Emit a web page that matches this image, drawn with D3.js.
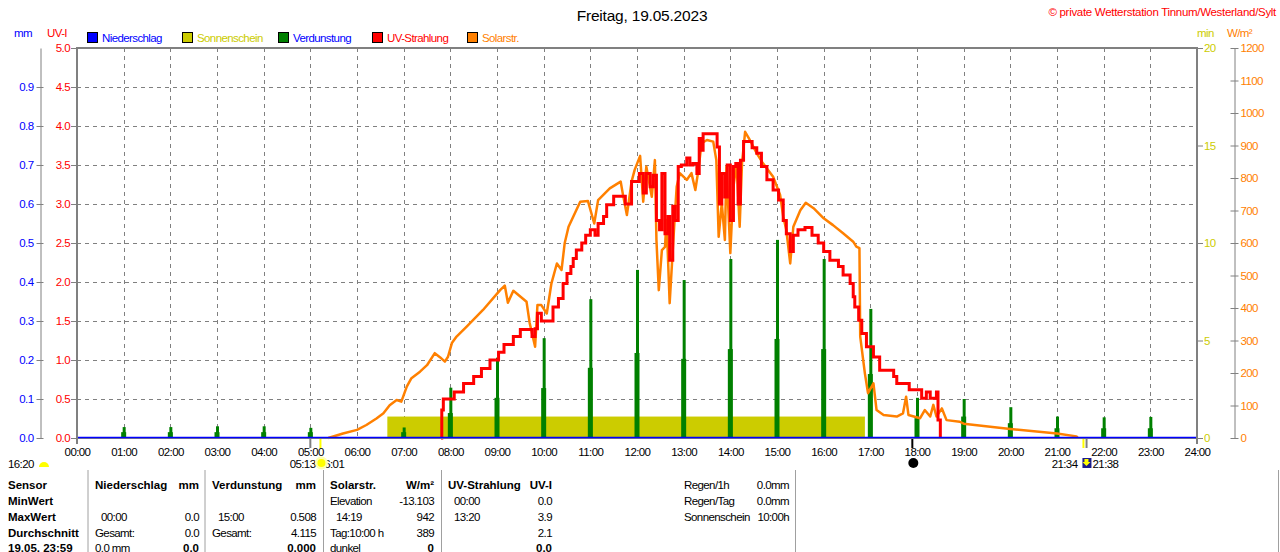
<!DOCTYPE html>
<html><head><meta charset="utf-8">
<script src="https://cdn.jsdelivr.net/npm/d3@7"></script>
<style>
body{margin:0;background:#fff;}
svg{display:block;}
text{font-family:"Liberation Sans",Arial,sans-serif;font-size:11.5px;letter-spacing:-0.6px;}
text.b{font-family:"Liberation Sans",Arial,sans-serif;font-weight:bold;font-size:11.5px;letter-spacing:0px;}
</style></head><body>
<svg id="c" width="1280" height="552"></svg>
<script>
// ---------------- DATA ----------------
const hourLabels = d3.range(0,25).map(h => String(h).padStart(2,'0') + ':00');
const mmTicks = [0,0.1,0.2,0.3,0.4,0.5,0.6,0.7,0.8,0.9];
const uvTicks = [0,0.5,1,1.5,2,2.5,3,3.5,4,4.5,5];
const minTicks = [0,5,10,15,20];
const wTicks = [0,100,200,300,400,500,600,700,800,900,1000,1100,1200];

const legendNames = ["Niederschlag","Sonnenschein","Verdunstung","UV-Strahlung","Solarstr."];
const legendBox = ["#0000ff","#cccc00","#008000","#ff0000","#ff8000"];
const legendText = ["#0000ff","#cccc00","#0000ff","#ff0000","#ff8000"];

// UV-Strahlung (UV-I), step series
const uvTimes = ["07:48","07:49","07:51","08:05","08:17","08:30","08:40","08:51","09:02","09:09","09:21","09:30","09:45","09:49","09:52","09:57",
"10:12","10:19","10:25","10:30","10:35","10:38","10:42","10:49","10:54","11:00","11:06","11:10","11:17","11:21","11:30","11:45","11:53",
"12:03","12:08","12:12","12:17","12:21","12:25","12:29","12:32","12:36","12:40","12:42","12:46","12:49","12:53","12:57",
"13:04","13:08","13:12","13:17","13:20","13:23","13:25","13:43","13:46","13:49","13:53","13:56",
"14:00","14:04","14:07","14:10","14:13","14:17","14:28","14:34","14:40","14:47","14:55",
"15:02","15:08","15:12","15:17","15:21","15:27","15:36","15:45","15:53",
"16:00","16:08","16:19","16:25","16:34","16:38","16:40","16:45","16:49","16:55",
"17:04","17:12","17:30","17:34","17:50","18:06","18:12","18:17","18:25","18:27","18:30"];
const uvValues = [0,0.36,0.50,0.59,0.70,0.79,0.89,1.00,1.10,1.20,1.30,1.39,1.30,1.40,1.60,1.50,
1.68,1.79,1.98,2.11,2.20,2.30,2.41,2.50,2.60,2.67,2.60,2.75,2.84,2.99,3.10,3.00,3.29,
3.39,3.14,3.39,3.22,3.37,2.79,2.67,3.39,2.62,2.84,2.28,2.97,2.79,3.48,3.50,
3.59,3.50,3.52,3.39,3.84,3.69,3.90,3.73,3.00,3.39,3.09,3.50,
2.79,3.48,3.52,3.00,3.56,3.80,3.72,3.65,3.48,3.31,3.18,
3.05,2.79,2.62,2.39,2.60,2.67,2.70,2.60,2.50,
2.39,2.28,2.20,2.09,1.98,1.81,1.68,1.51,1.34,1.17,
1.04,0.87,0.79,0.70,0.62,0.51,0.59,0.51,0.59,0.23,0];

// Solarstrahlung (W/m²)
const solarTimes = ["05:23","05:42","06:00","06:12","06:25","06:34","06:42","06:51","06:57","07:04","07:10","07:21","07:30","07:40","07:47","07:53","07:57","08:02","08:08","08:21","08:42",
"09:04","09:10","09:14","09:21","09:38","09:42","09:49","09:52","09:57","10:04","10:10","10:17","10:23","10:27","10:32","10:38","10:47","10:57",
"11:05","11:10","11:25","11:39","11:42","11:47","11:53","11:57","12:04","12:08","12:12","12:19","12:23","12:25","12:28","12:32","12:36","12:38",
"12:42","12:47","12:51","12:55","13:04","13:10","13:15","13:19","13:23","13:30","13:38","13:42","13:45","13:49","13:53","13:55",
"14:00","14:04","14:08","14:12","14:15","14:19","14:25","14:34","14:42","14:55","15:04","15:08","15:12","15:17","15:21","15:30","15:37","15:47",
"16:00","16:12","16:25","16:38","16:42","16:46","16:47","16:53","16:57","17:04","17:08","17:17","17:34","17:42","17:46","17:49",
"18:04","18:10","18:17","18:21","18:25","18:32","18:38","18:55","19:00","20:00","21:00","21:25","21:27"];
const solarValues = [0,14,25,40,60,76,101,117,112,158,184,204,224,261,248,235,250,292,312,343,394,
455,469,416,453,419,354,281,409,409,383,476,537,517,599,650,681,727,729,
660,732,768,789,748,686,789,825,868,727,835,742,855,609,455,578,588,671,
415,619,773,815,794,815,763,825,907,917,912,855,619,723,609,835,
569,773,845,650,845,942,917,876,845,804,748,681,640,537,650,701,724,707,
676,655,630,604,589,584,312,199,138,168,86,71,66,76,127,71,
61,86,66,102,66,91,55,50,44,28,14,5,0];

// Verdunstung (mm) per hour: peak and shoulder
const evapHours = d3.range(0,24);
const evapPeak = [0,0.028,0.028,0.030,0.030,0.026,0,0.027,0.129,0.206,0.256,0.356,0.431,0.405,0.459,0.508,0.459,0.331,0.103,0.100,0.079,0.055,0.053,0.054];
const evapShoulder = [0,0.015,0.015,0.015,0.015,0.015,0,0.015,0.064,0.103,0.128,0.180,0.218,0.203,0.228,0.254,0.228,0.164,0.051,0.055,0.038,0.025,0.025,0.025];

// Sonnenschein (min)
const sunshineFrom = ["06:39"];
const sunshineTo = ["16:53"];
const sunshineMin = [1.1];

// Astronomical markers below the axis
const markerTimes = ["05:00","05:13","17:54","21:34","21:38"];
const markerColors = ["#808080","#ffff00","#000000","#ffff00","#808080"];

// Table
const sensorLabels = ["Sensor","MinWert","MaxWert","Durchschnitt","19.05. 23:59"];
const colNieder = [["Niederschlag","mm"],["",""],["00:00","0.0"],["Gesamt:","0.0"],["0.0 mm","0.0"]];
const colVerd = [["Verdunstung","mm"],["",""],["15:00","0.508"],["Gesamt:","4.115"],["","0.000"]];
const colSolar = [["Solarstr.","W/m²"],["Elevation","-13.103"],["14:19","942"],["Tag:10:00 h","389"],["dunkel","0"]];
const colUV = [["UV-Strahlung","UV-I"],["00:00","0.0"],["13:20","3.9"],["","2.1"],["","0.0"]];
const colRegen = [["Regen/1h","0.0mm"],["Regen/Tag","0.0mm"],["Sonnenschein","10:00h"]];

// ---------------- CHART ----------------
const pt = s => { const [h,m] = s.split(':').map(Number); return h*60+m; };
const svg = d3.select('#c');
const L=77, R=1197, T=48, B=438;
const x = d3.scaleLinear().domain([0,1440]).range([L,R]);
const yUV = d3.scaleLinear().domain([0,5]).range([B,T]);
const yMM = d3.scaleLinear().domain([0,1]).range([B,T]);
const yMin = d3.scaleLinear().domain([0,20]).range([B,T]);
const yW = d3.scaleLinear().domain([0,1200]).range([B,T]);
const GRAY = "#808080";

// title + copyright
svg.append('text').attr('x',642).attr('y',20.5).attr('text-anchor','middle')
  .style('font-size','15.5px').style('letter-spacing','-0.2px').text('Freitag, 19.05.2023');
svg.append('text').attr('x',1276).attr('y',16).attr('text-anchor','end').attr('fill','#ff0000')
  .style('letter-spacing','-0.3px').text('© private Wetterstation Tinnum/Westerland/Sylt');

// axis unit labels
svg.append('text').attr('x',14).attr('y',37).attr('fill','#0000ff').text('mm');
svg.append('text').attr('x',47).attr('y',37).attr('fill','#ff0000').text('UV-I');
svg.append('text').attr('x',1197).attr('y',37).attr('fill','#cccc00').text('min');
svg.append('text').attr('x',1227).attr('y',37).attr('fill','#ff8000').text('W/m²');

// legend
const legX = [87,182,278,372,467];
const lg = svg.append('g');
legendNames.forEach((n,i)=>{
  lg.append('rect').attr('x',legX[i]+0.5).attr('y',32.5).attr('width',10).attr('height',10)
    .attr('fill',legendBox[i]).attr('stroke','#000');
  lg.append('text').attr('x',legX[i]+15).attr('y',42).attr('fill',legendText[i]).text(n);
});

// grid
const grid = svg.append('g').attr('stroke',GRAY).attr('stroke-dasharray','4,4').attr('stroke-width',1);
uvTicks.filter(v=>v>0 && v<5).forEach(v=>{
  grid.append('line').attr('x1',L).attr('x2',R).attr('y1',Math.round(yUV(v))+0.5).attr('y2',Math.round(yUV(v))+0.5);
});
d3.range(1,24).forEach(h=>{
  const xx = Math.round(x(h*60))+0.5;
  grid.append('line').attr('x1',xx).attr('x2',xx).attr('y1',T).attr('y2',B);
});

// sunshine
svg.append('g').selectAll('rect').data(sunshineFrom).join('rect')
  .attr('x',(d,i)=>x(pt(d))).attr('width',(d,i)=>x(pt(sunshineTo[i]))-x(pt(d)))
  .attr('y',(d,i)=>yMin(sunshineMin[i])).attr('height',(d,i)=>B-yMin(sunshineMin[i]))
  .attr('fill','#cccc00');

// evaporation spikes
const ev = svg.append('g').attr('fill','#008000');
ev.selectAll('rect.s').data(evapHours).join('rect').attr('class','s')
  .attr('x',h=>x(h*60)-2.5).attr('width',5)
  .attr('y',(h,i)=>yMM(evapShoulder[i])).attr('height',(h,i)=>B-yMM(evapShoulder[i]));
ev.selectAll('rect.p').data(evapHours).join('rect').attr('class','p')
  .attr('x',h=>x(h*60)-1).attr('width',3)
  .attr('y',(h,i)=>yMM(evapPeak[i])).attr('height',(h,i)=>B-yMM(evapPeak[i]));

// solar line
const solarData = solarTimes.map((t,i)=>[pt(t),solarValues[i]]);
svg.append('path').datum(solarData).attr('fill','none').attr('stroke','#ff8000').attr('stroke-width',2.5)
  .attr('stroke-linejoin','round')
  .attr('d',d3.line().x(d=>x(d[0])).y(d=>yW(d[1])));

// uv line
const uvData = uvTimes.map((t,i)=>[pt(t),uvValues[i]]);
svg.append('path').datum(uvData).attr('fill','none').attr('stroke','#ff0000').attr('stroke-width',3)
  .attr('d',d3.line().curve(d3.curveStepAfter).x(d=>x(d[0])).y(d=>yUV(d[1])));

// baseline (Niederschlag 0)
svg.append('line').attr('x1',L).attr('x2',R).attr('y1',438.5).attr('y2',438.5).attr('stroke',GRAY);
svg.append('line').attr('x1',L).attr('x2',R).attr('y1',437.5).attr('y2',437.5).attr('stroke','#0000ff').attr('stroke-width',1.5);

// frame
const fr = svg.append('g').attr('stroke',GRAY).attr('stroke-width',2).attr('fill','none');
fr.append('path').attr('d',`M${L},444V${T}H${R}V444`);

function styleText(g, color){
  g.selectAll('text').attr('fill',color).style('font-size','11.5px').style('font-family',null);
}
// mm axis
const gmm = svg.append('g').attr('transform','translate(40.5,0)')
  .call(d3.axisLeft(yMM).tickValues(mmTicks).tickFormat(d3.format('.1f')).tickSize(4).tickSizeOuter(0).tickPadding(3));
gmm.selectAll('.tick line').attr('x1',3).attr('stroke',GRAY);
gmm.select('.domain').attr('stroke',GRAY);
styleText(gmm,'#0000ff');

// UV axis
const guv = svg.append('g').attr('transform','translate(76,0)')
  .call(d3.axisLeft(yUV).tickValues(uvTicks).tickFormat(d3.format('.1f')).tickSize(5).tickPadding(1));
guv.select('.domain').remove();
guv.selectAll('.tick line').attr('stroke',GRAY);
styleText(guv,'#ff0000');

// min axis
const gmin = svg.append('g').attr('transform','translate(1198,0)')
  .call(d3.axisRight(yMin).tickValues(minTicks).tickFormat(d3.format('d')).tickSize(5).tickPadding(1));
gmin.select('.domain').remove();
gmin.selectAll('.tick line').attr('stroke',GRAY);
styleText(gmin,'#cccc00');

// W axis
const gw = svg.append('g').attr('transform','translate(1234.5,0)')
  .call(d3.axisRight(yW).tickValues(wTicks).tickFormat(d3.format('d')).tickSize(4).tickSizeOuter(0).tickPadding(2));
gw.selectAll('.tick line').attr('x1',-4).attr('stroke',GRAY);
gw.select('.domain').attr('stroke',GRAY);
styleText(gw,'#ff8000');

// time axis
const gx = svg.append('g').attr('transform',`translate(0,${B})`)
  .call(d3.axisBottom(x).tickValues(d3.range(0,25).map(h=>h*60)).tickFormat((d,i)=>hourLabels[i]).tickSize(0).tickPadding(10));
gx.select('.domain').remove();
styleText(gx,'#000');

// markers below axis
svg.append('g').selectAll('line').data(markerTimes).join('line')
  .attr('x1',d=>x(pt(d))).attr('x2',d=>x(pt(d))).attr('y1',439).attr('y2',448)
  .attr('stroke',(d,i)=>markerColors[i]).attr('stroke-width',2);

// bottom annotation row
const ann = svg.append('g');
ann.append('text').attr('x',8).attr('y',467.5).text('16:20');
ann.append('path').attr('d','M39,467a5,5 0 0 1 10,0z').attr('fill','#ffff00');
ann.append('text').attr('x',x(pt("05:13"))-5).attr('y',467.5).attr('text-anchor','end').text('05:13');
ann.append('text').attr('x',x(pt("05:13"))-2).attr('y',467.5).text('06:01');
ann.append('circle').attr('cx',x(pt("05:13"))+1).attr('cy',463).attr('r',6.5).attr('fill','#ffffb0');
ann.append('circle').attr('cx',x(pt("05:13"))+1).attr('cy',463).attr('r',4).attr('fill','#ffff00');
ann.append('circle').attr('cx',x(pt("17:54"))+1).attr('cy',463).attr('r',5).attr('fill','#000');
ann.append('text').attr('x',x(pt("21:34"))-6).attr('y',467.5).attr('text-anchor','end').text('21:34');
ann.append('rect').attr('x',x(pt("21:34"))-1).attr('y',458).attr('width',9).attr('height',10).attr('fill','#1c1c8c');
ann.append('path').attr('d',`M${x(pt("21:34"))+1},459h4v3h2l-4,4l-4,-4h2z`).attr('fill','#ffff00');
ann.append('text').attr('x',x(pt("21:38"))+6).attr('y',467.5).text('21:38');

// table
const tb = svg.append('g');
[88,205,323.5,441.5,795.5,1278.5].forEach(xx=>{
  tb.append('line').attr('x1',xx).attr('x2',xx).attr('y1',470).attr('y2',552).attr('stroke','#a0a0a0');
});
const rowY = [489,505,521,536.5,552];
sensorLabels.forEach((s,i)=>tb.append('text').attr('class','b').attr('x',8).attr('y',rowY[i]).text(s));
function col(data, lx, rx){
  data.forEach((r,i)=>{
    const isTime = /^\d\d:\d\d$/.test(r[0]);
    if(r[0]) tb.append('text').attr('class',i===0?'b':null).attr('x',lx+(isTime?(i===0?0:6):0)).attr('y',rowY[i]).text(r[0]);
    if(r[1]) tb.append('text').attr('class',(i===0||i===4)?'b':null).attr('x',rx).attr('y',rowY[i]).attr('text-anchor','end').text(r[1]);
  });
}
col(colNieder,95,199);
col(colVerd,212,316);
col(colSolar,330,434);
col(colUV,448,552);
colRegen.forEach((r,i)=>{
  tb.append('text').attr('x',684).attr('y',rowY[i]).text(r[0]);
  tb.append('text').attr('x',789).attr('y',rowY[i]).attr('text-anchor','end').text(r[1]);
});
</script>
</body></html>
